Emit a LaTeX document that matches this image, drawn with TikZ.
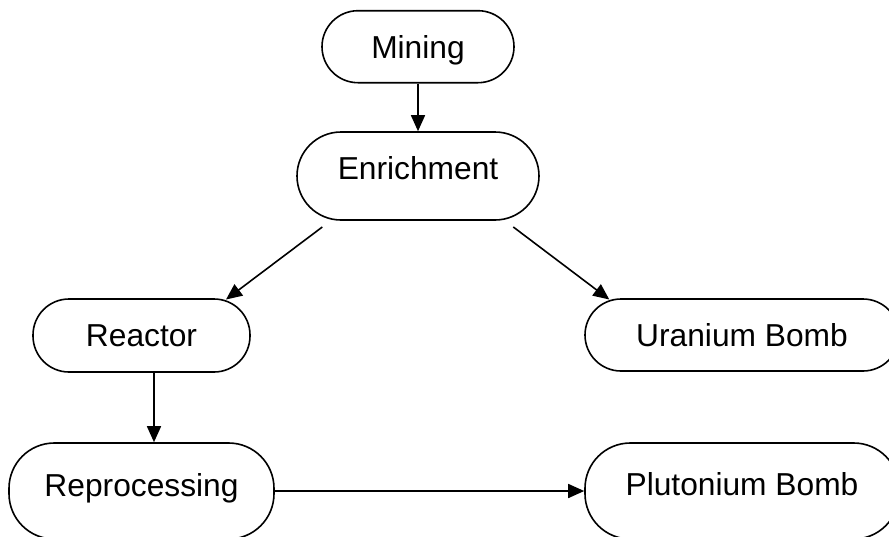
\documentclass[tikz,border=0pt]{standalone}
\usepackage{fontspec}
\setmainfont{Liberation Sans}
\usetikzlibrary{arrows.meta}
\begin{document}
\begin{tikzpicture}[x=0.75pt,y=-0.75pt,
  pill/.style={draw=black, line width=1.2pt, inner sep=0pt, align=center,
    text height=17pt, text depth=#1,
    font=\fontsize{23.8}{28}\selectfont},
  pill/.default=0pt,
  arr/.style={draw=black, line width=1.2pt, -{Triangle[length=12pt,width=10.5pt]}}]
\useasboundingbox (0,0) rectangle (889,536);
\clip (0,0) rectangle (889,536);
\node[pill, minimum width=144pt, minimum height=54pt, rounded corners=27pt] (mining) at (418,46.7) {Mining};
\node[pill=12pt, minimum width=181.5pt, minimum height=66pt, rounded corners=33pt] (enr) at (418,176) {Enrichment};
\node[pill, minimum width=162.75pt, minimum height=54.75pt, rounded corners=27pt] (reactor) at (141.5,335.5) {Reactor};
\node[pill, minimum width=235.5pt, minimum height=54pt, rounded corners=27pt] (uran) at (742,335) {Uranium Bomb};
\node[pill=9pt, minimum width=198.75pt, minimum height=72pt, rounded corners=34pt] (repro) at (141.5,491) {Reprocessing};
\node[pill=11pt, minimum width=235.5pt, minimum height=72pt, rounded corners=34pt] (pluto) at (742,491) {Plutonium Bomb};
\coordinate (e1) at (322.3,227);
\coordinate (r1) at (226,299.5);
\coordinate (e2) at (513.3,227);
\coordinate (u1) at (609.3,299.5);
\coordinate (xr) at (154,0);
\draw[arr] (mining.south) -- (enr.north);
\draw[arr] (e1) -- (r1);
\draw[arr] (e2) -- (u1);
\draw[arr] (reactor.south -| xr) -- (repro.north -| xr);
\draw[arr] (repro.east) -- (pluto.west);
\end{tikzpicture}
\end{document}
